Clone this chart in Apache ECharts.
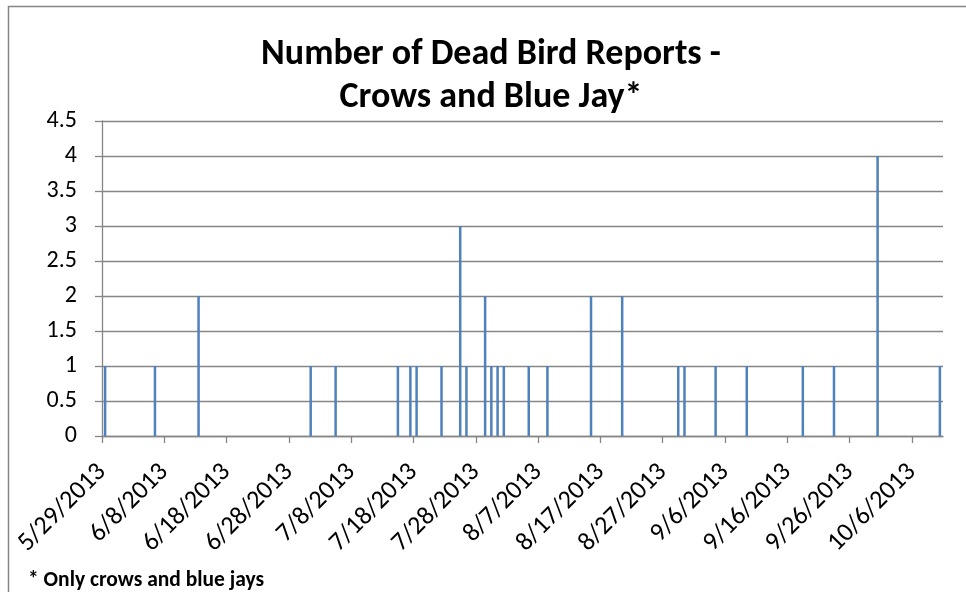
<!DOCTYPE html>
<html>
<head>
<meta charset="utf-8">
<script src="https://cdn.jsdelivr.net/npm/echarts@6/dist/echarts.min.js"></script>
<style>
html,body{margin:0;padding:0;background:#fff;}
#chart{width:966px;height:592px;}
</style>
</head>
<body>
<div id="chart"></div>
<script>
// ---- data ----
const axisStart = '5/29/2013';
const axisDays = 135; // axis spans 5/29/2013 .. 10/11/2013 (one slot per day)
const tickLabels = ['5/29/2013','6/8/2013','6/18/2013','6/28/2013','7/8/2013','7/18/2013','7/28/2013',
  '8/7/2013','8/17/2013','8/27/2013','9/6/2013','9/16/2013','9/26/2013','10/6/2013'];
const reportDates = ['5/29/2013','6/6/2013','6/13/2013','7/1/2013','7/5/2013','7/15/2013','7/17/2013',
  '7/18/2013','7/22/2013','7/25/2013','7/26/2013','7/29/2013','7/30/2013','7/31/2013','8/1/2013',
  '8/5/2013','8/8/2013','8/15/2013','8/20/2013','8/29/2013','8/30/2013','9/4/2013','9/9/2013',
  '9/18/2013','9/23/2013','9/30/2013','10/10/2013'];
const reportCounts = [1,1,2,1,1,1,1,
  1,1,3,1,2,1,1,1,
  1,1,2,2,1,1,1,1,
  1,1,4,1];
const yTicks = {min:0, max:4.5, step:0.5};

// ---- helpers ----
function parseMDY(s){ const p=s.split('/').map(Number); return Date.UTC(p[2],p[0]-1,p[1]); }
const t0 = parseMDY(axisStart);
function dayOffset(s){ return Math.round((parseMDY(s)-t0)/86400000); }
function labelFor(v){
  const d = new Date(t0 + Math.round(v)*86400000);
  return (d.getUTCMonth()+1)+'/'+d.getUTCDate()+'/'+d.getUTCFullYear();
}
const tickValues = tickLabels.map(dayOffset);
const barData = reportDates.map((d,i)=>[dayOffset(d)+0.5, reportCounts[i]]);

const FONT = 'Carlito, Lato, "Open Sans", sans-serif';
const GRAY = '#868686';

const chart = echarts.init(document.getElementById('chart'), null, {renderer:'canvas'});
chart.setOption({
  animation:false,
  backgroundColor:'#fff',
  title:{
    text:'Number of Dead Bird Reports -\nCrows and Blue Jay*',
    left:486, top:28, textAlign:'center',
    textStyle:{fontFamily:FONT, fontWeight:'bold', fontSize:36, color:'#000', lineHeight:43}
  },
  graphic:[
    {type:'rect', shape:{x:8.5,y:6.5,width:1200,height:1200}, style:{fill:null, stroke:GRAY, lineWidth:1.5}, silent:true, z:-1},
    {type:'text', left:28, top:570, style:{text:'* Only crows and blue jays', fontFamily:FONT, fontWeight:'bold', fontSize:21.5, fill:'#000'}}
  ],
  grid:{left:102, right:23, top:121, bottom:156, containLabel:false},
  xAxis:{
    type:'value', min:0, max:axisDays,
    axisLine:{show:true, lineStyle:{color:GRAY, width:1.3}},
    axisTick:{show:true, customValues:tickValues, length:7, lineStyle:{color:GRAY, width:1.3}},
    axisLabel:{customValues:tickValues, formatter:labelFor, rotate:45, margin:32,
      padding:[14,0,0,0], backgroundColor:'rgba(255,255,255,0)',
      fontFamily:FONT, fontSize:26, color:'#000'},
    splitLine:{show:false}
  },
  yAxis:{
    type:'value', min:yTicks.min, max:yTicks.max, interval:yTicks.step,
    axisLine:{show:true, lineStyle:{color:GRAY, width:1.3}},
    axisTick:{show:true, length:7, lineStyle:{color:GRAY, width:1.3}},
    axisLabel:{margin:25, fontFamily:FONT, fontSize:24, color:'#000'},
    splitLine:{show:true, lineStyle:{color:GRAY, width:1.3}}
  },
  series:[{
    type:'bar', data:barData, barWidth:2.5,
    itemStyle:{color:'#4F81BD'}
  }]
});
</script>
</body>
</html>
